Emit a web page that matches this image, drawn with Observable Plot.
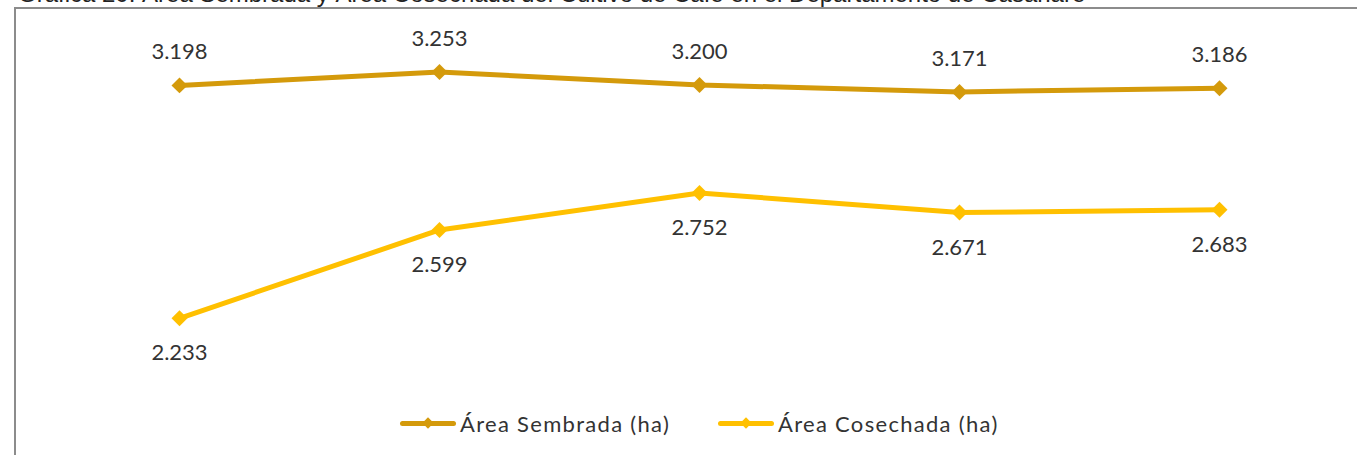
<!DOCTYPE html>
<html>
<head>
<meta charset="utf-8">
<script src="https://cdn.jsdelivr.net/npm/d3@7"></script>
<script src="https://cdn.jsdelivr.net/npm/@observablehq/plot@0.6"></script>
<style>
  html, body { margin: 0; padding: 0; background: #fff; overflow: hidden; }
  #page { position: relative; width: 1357px; height: 455px; overflow: hidden; }
  #title { position: absolute; left: 18px; top: -20px; font-family: "Liberation Sans", Arial, sans-serif; font-size: 24px; color: #222; white-space: nowrap; }
  #frame { position: absolute; left: 14px; top: 7px; width: 1400px; height: 500px; border-left: 2px solid #8c8c8c; border-top: 2px solid #8c8c8c; }
  #chart { position: absolute; left: 16px; top: 9px; }
  #legend { position: absolute; top: 410px; left: 0; width: 1357px; font-family: Lato, "Open Sans", sans-serif; font-size: 22px; letter-spacing: 1.3px; color: #333; }
  .item { position: absolute; display: flex; align-items: center; white-space: nowrap; }
  .sw { position: relative; width: 56px; height: 5px; border-radius: 3px; margin-right: 4px; }
  .sw i { position: absolute; left: 24px; top: -2.5px; width: 8px; height: 8px; transform: rotate(45deg); background: inherit; }
</style>
</head>
<body>
<div id="page">
  <div id="title">Gráfica 20. Área Sembrada y Área Cosechada del Cultivo de Café en el Departamento de Casanare</div>
  <div id="frame"></div>
  <div id="chart"></div>
  <div id="legend"></div>
</div>
<script>
const years = ["2015", "2016", "2017", "2018", "2019"];
const seriesNames = ["Área Sembrada (ha)", "Área Cosechada (ha)"];
const sembrada = [3.198, 3.253, 3.200, 3.171, 3.186];
const cosechada = [2.233, 2.599, 2.752, 2.671, 2.683];
const colors = ["#D49A0B", "#FFC000"];

const fmt = v => v.toFixed(3);
const rows = [];
years.forEach((y, i) => {
  rows.push({year: y, serie: seriesNames[0], value: sembrada[i]});
  rows.push({year: y, serie: seriesNames[1], value: cosechada[i]});
});
const semRows = rows.filter(d => d.serie === seriesNames[0]);
const cosRows = rows.filter(d => d.serie === seriesNames[1]);

const labelFont = {fontFamily: "Lato, 'Open Sans', sans-serif", fontSize: 22, fill: "#333"};

const plot = Plot.plot({
  width: 1341,
  height: 446,
  marginLeft: 162,
  marginRight: 137,
  marginTop: 3,
  marginBottom: 81,
  x: {type: "point", domain: years, padding: 0, axis: null},
  y: {domain: [2, 3.5], axis: null},
  color: {domain: seriesNames, range: colors},
  marks: [
    Plot.line(rows, {x: "year", y: "value", z: "serie", stroke: "serie", strokeWidth: 5, strokeLinejoin: "round"}),
    Plot.dot(rows, {x: "year", y: "value", fill: "serie", symbol: "diamond2", r: 7.2}),
    Plot.text(semRows, {x: "year", y: "value", text: d => fmt(d.value), dy: -33, ...labelFont}),
    Plot.text(cosRows, {x: "year", y: "value", text: d => fmt(d.value), dy: 35, ...labelFont})
  ]
});
document.getElementById("chart").appendChild(plot);

const legend = document.getElementById("legend");
const lefts = [400, 718];
seriesNames.forEach((name, i) => {
  const item = document.createElement("div");
  item.className = "item";
  item.style.left = lefts[i] + "px";
  const sw = document.createElement("span");
  sw.className = "sw";
  sw.style.background = colors[i];
  sw.appendChild(document.createElement("i"));
  item.appendChild(sw);
  const t = document.createElement("span");
  t.textContent = name;
  item.appendChild(t);
  legend.appendChild(item);
});
</script>
</body>
</html>
